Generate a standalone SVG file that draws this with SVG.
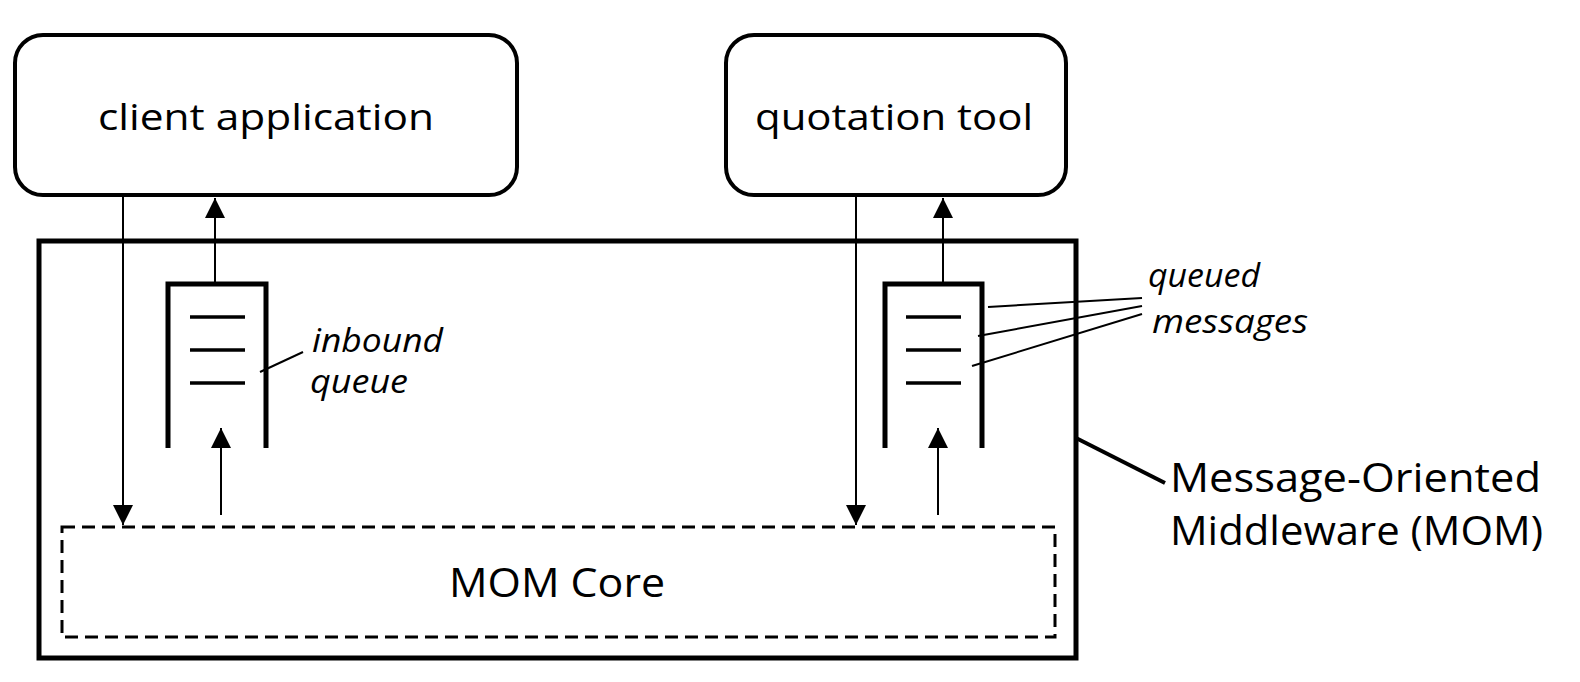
<svg xmlns="http://www.w3.org/2000/svg" width="1580" height="682" viewBox="0 0 1580 682">
<defs>
<marker id="ah" viewBox="0 0 20 20" refX="20" refY="10" markerWidth="20" markerHeight="20" markerUnits="userSpaceOnUse" orient="auto">
<path d="M0,0 L20,10 L0,20 Z" fill="#000"/>
</marker>
<style>
.box{fill:#fff;stroke:#000;stroke-width:4}
.frame{fill:none;stroke:#000;stroke-width:5}
.dash{fill:none;stroke:#000;stroke-width:3;stroke-dasharray:13 7}
.q{fill:none;stroke:#000;stroke-width:5;stroke-linejoin:miter}
.msg{stroke:#000;stroke-width:3.5}
.arr{stroke:#000;stroke-width:2;fill:none;marker-end:url(#ah)}
.ptr{stroke:#000;stroke-width:2;fill:none}
.ptrb{stroke:#000;stroke-width:4;fill:none}
.t{font-family:"Open Sans","Liberation Sans",sans-serif;fill:#000}
.it{font-family:"Open Sans","Liberation Sans",sans-serif;font-style:italic;fill:#000}
</style>
</defs>
<rect width="1580" height="682" fill="#fff"/>

<g id="mom">
<rect class="frame" x="39" y="241" width="1037" height="417"/>
<text class="t" x="1170" y="492" font-size="40" textLength="371" lengthAdjust="spacingAndGlyphs">Message-Oriented</text>
<text class="t" x="1170" y="545" font-size="40" textLength="373" lengthAdjust="spacingAndGlyphs">Middleware (MOM)</text>
</g>

<g id="client">
<rect class="box" x="15" y="35" width="502" height="160" rx="28"/>
<text class="t" x="98" y="130" font-size="37" textLength="336" lengthAdjust="spacingAndGlyphs">client application</text>
</g>

<g id="quotation">
<rect class="box" x="726" y="35" width="340" height="160" rx="28"/>
<text class="t" x="755" y="130" font-size="37" textLength="278" lengthAdjust="spacingAndGlyphs">quotation tool</text>
</g>

<g id="core">
<rect class="dash" x="62" y="527" width="993" height="110"/>
<text class="t" x="449" y="597" font-size="40" textLength="216" lengthAdjust="spacingAndGlyphs">MOM Core</text>
</g>

<g id="inbound-queue">
<path class="q" d="M168,448 V284 H266 V448"/>
<line class="msg" x1="190" y1="317" x2="245" y2="317"/>
<line class="msg" x1="190" y1="350" x2="245" y2="350"/>
<line class="msg" x1="190" y1="383" x2="245" y2="383"/>
<text class="it" x="312" y="352" font-size="32" textLength="131" lengthAdjust="spacingAndGlyphs">inbound</text>
<text class="it" x="310" y="393" font-size="32" textLength="98" lengthAdjust="spacingAndGlyphs">queue</text>
</g>

<g id="quotation-queue">
<path class="q" d="M885,448 V284 H982 V448"/>
<line class="msg" x1="906" y1="317" x2="961" y2="317"/>
<line class="msg" x1="906" y1="350" x2="961" y2="350"/>
<line class="msg" x1="906" y1="383" x2="961" y2="383"/>
<text class="it" x="1148" y="287" font-size="32" textLength="112" lengthAdjust="spacingAndGlyphs">queued</text>
<text class="it" x="1152" y="333" font-size="32" textLength="156" lengthAdjust="spacingAndGlyphs">messages</text>
</g>

<g id="connectors">
<line class="arr" x1="123" y1="195" x2="123" y2="525"/>
<line class="arr" x1="215" y1="284" x2="215" y2="198"/>
<line class="arr" x1="221" y1="515" x2="221" y2="428"/>
<line class="arr" x1="856" y1="195" x2="856" y2="525"/>
<line class="arr" x1="943" y1="284" x2="943" y2="198"/>
<line class="arr" x1="938" y1="515" x2="938" y2="428"/>
<line class="ptr" x1="260" y1="372" x2="303" y2="352"/>
<line class="ptr" x1="1142" y1="298" x2="988" y2="307"/>
<line class="ptr" x1="1142" y1="306" x2="978" y2="336"/>
<line class="ptr" x1="1142" y1="314" x2="972" y2="366"/>
<line class="ptrb" x1="1076" y1="438" x2="1165" y2="483"/>
</g>
</svg>
